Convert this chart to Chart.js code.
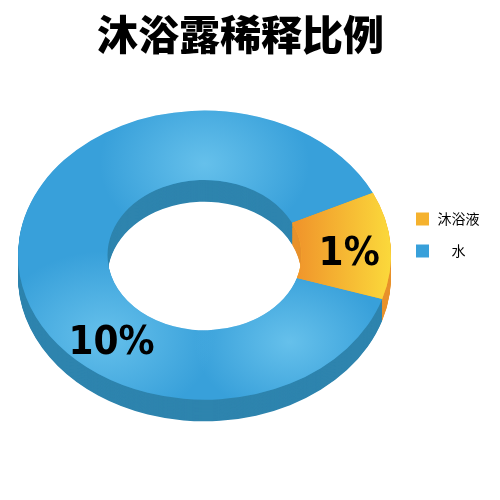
<!DOCTYPE html>
<html>
<head>
<meta charset="utf-8">
<style>
    html, body { margin: 0; padding: 0; background: #fff; }
    canvas { display: block; }
</style>
</head>
<body>
<canvas id="myChart" width="500" height="500"></canvas>
<script src="https://cdn.jsdelivr.net/npm/chart.js@4"></script>
<script>
const categories = ['沐浴液', '水'];
const sliceValues = [12, 88];
const valueLabels = ['1%', '10%'];

const faceColors = ['#F5B22E', '#38A0DA'];
const sideColors = ['#E8922C', '#2E84AE'];

const squash = 0.775;   // the ring is tilted away from the viewer
const depth = 28;       // thickness, before squashing
const labelAngles = [-1.6, 130]; // degrees clockwise from 3 o'clock

function drawArc(arc, ctx, fill) {
    const options = arc.options;
    arc.options = Object.create(options);
    arc.options.backgroundColor = fill;
    arc.draw(ctx);
    arc.options = options;
}

// Tilted doughnut: squash the canvas around the centre and stack the ring for the sides
const tiltPlugin = {
    id: 'tilt',
    afterLayout(chart) {
        const { titleBlock, legend } = chart;
        titleBlock.left -= 9;
        titleBlock.right -= 9;
        legend.left += 7;
        legend.top += 12;
        legend.bottom += 12;
    },
    beforeDatasetsDraw(chart) {
        const { ctx } = chart;
        const arcs = chart.getDatasetMeta(0).data;
        const centerY = arcs[0].y;
        ctx.save();
        ctx.translate(0, centerY);
        ctx.scale(1, squash);
        ctx.translate(0, -centerY);
        for (let d = depth; d > 0; d--) {
            ctx.save();
            ctx.translate(0, d);
            arcs.forEach((arc, i) => drawArc(arc, ctx, sideColors[i]));
            ctx.restore();
        }
    },
    afterDatasetsDraw(chart) {
        const { ctx } = chart;
        const arcs = chart.getDatasetMeta(0).data;
        const { x, y, innerRadius, outerRadius } = arcs[0];

        const orange = ctx.createLinearGradient(x + innerRadius - 5, 0, x + outerRadius, 0);
        orange.addColorStop(0, '#F0952B');
        orange.addColorStop(1, '#FBD93B');
        drawArc(arcs[0], ctx, orange);

        // soft highlights on the blue face
        [[0, -118, 105], [-100, 105, 110], [85, 112, 95]].forEach(([dx, dy, r]) => {
            const glow = ctx.createRadialGradient(x + dx, y + dy, 0, x + dx, y + dy, r);
            glow.addColorStop(0, 'rgba(104, 194, 236, 0.95)');
            glow.addColorStop(1, 'rgba(104, 194, 236, 0)');
            drawArc(arcs[1], ctx, glow);
        });
        ctx.restore();

        ctx.font = 'bold 36px "DejaVu Sans"';
        ctx.fillStyle = '#000';
        ctx.textAlign = 'center';
        ctx.textBaseline = 'middle';
        const labelRadius = (innerRadius + outerRadius) / 2 + 3;
        valueLabels.forEach((text, i) => {
            const angle = labelAngles[i] * Math.PI / 180;
            ctx.save();
            ctx.translate(x + labelRadius * Math.cos(angle), y + 3 + labelRadius * Math.sin(angle) * squash);
            ctx.scale(1, 1.1); // the numbers are drawn a little tall
            ctx.fillText(text, 0, 0);
            ctx.restore();
        });
    }
};

new Chart(document.getElementById('myChart'), {
    type: 'doughnut',
    data: {
        labels: categories,
        datasets: [{
            data: sliceValues,
            backgroundColor: faceColors,
            borderWidth: 0,
            clip: false
        }]
    },
    options: {
        responsive: false,
        animation: false,
        rotation: 64.5,
        cutout: '52%',
        layout: { padding: { left: 18, right: 19, top: 0, bottom: 54 } },
        plugins: {
            title: {
                display: true,
                text: '沐浴露稀释比例',
                color: '#000',
                font: { family: '"Noto Sans CJK SC"', size: 41, weight: '900' },
                padding: { top: 10, bottom: 5 }
            },
            legend: {
                position: 'right',
                labels: {
                    boxWidth: 13,
                    boxHeight: 13,
                    padding: 18,
                    color: '#000',
                    textAlign: 'center',
                    font: { family: '"Noto Sans CJK SC"', size: 14 }
                }
            },
            tooltip: { enabled: false }
        }
    },
    plugins: [tiltPlugin]
});
</script>
</body>
</html>
